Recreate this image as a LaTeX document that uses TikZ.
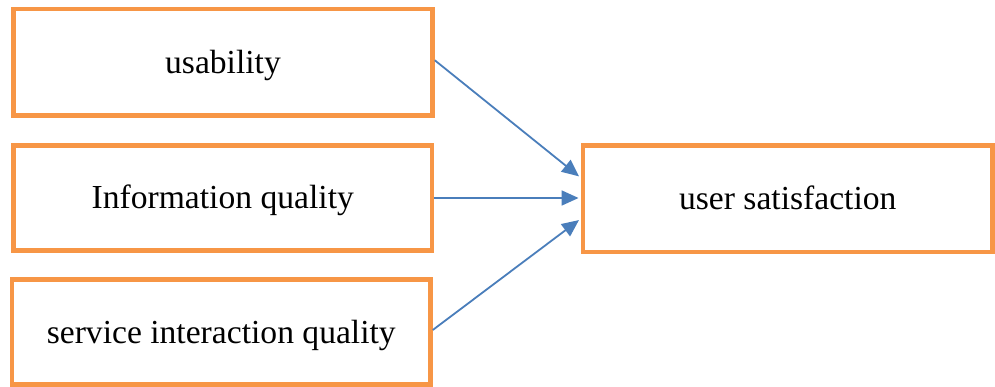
\documentclass[tikz,border=0pt]{standalone}
\usepackage{fontspec}
\setmainfont{Liberation Serif}
\usetikzlibrary{arrows.meta}
\definecolor{boxorange}{HTML}{F79646}
\definecolor{arrowblue}{HTML}{4A7EBB}
\begin{document}
\begin{tikzpicture}[x=1pt,y=-1pt,
  box/.style={draw=boxorange, line width=4.5pt, fill=white, inner sep=0pt,
    text height=24pt, text depth=2pt,
    font=\fontsize{33.6}{40}\selectfont, text=black},
  link/.style={draw=arrowblue, line width=1.8pt,
    -{Triangle[length=17pt,width=15pt]}, shorten >=2.2pt}]
\fill[white] (0,0) rectangle (995,387);
\useasboundingbox (0,0) rectangle (995,387);
\node[box, minimum width=419pt, minimum height=106.5pt] (b1) at (223,62.25) {usability};
\node[box, minimum width=418.5pt, minimum height=105pt] (b2) at (222.75,198) {Information quality};
\node[box, minimum width=418.5pt, minimum height=105pt] (b3) at (221.25,332) {service interaction quality};
\node[box, minimum width=409.5pt, minimum height=106.5pt] (us) at (787.75,198.75) {user satisfaction};
\draw[link] ([yshift=2pt]b1.east) -- ([yshift=21pt]us.west);
\draw[link] (b2.east) -- (b2.east -| us.west);
\draw[link] ([yshift=2pt]b3.east) -- ([yshift=-20pt]us.west);
\end{tikzpicture}
\end{document}
